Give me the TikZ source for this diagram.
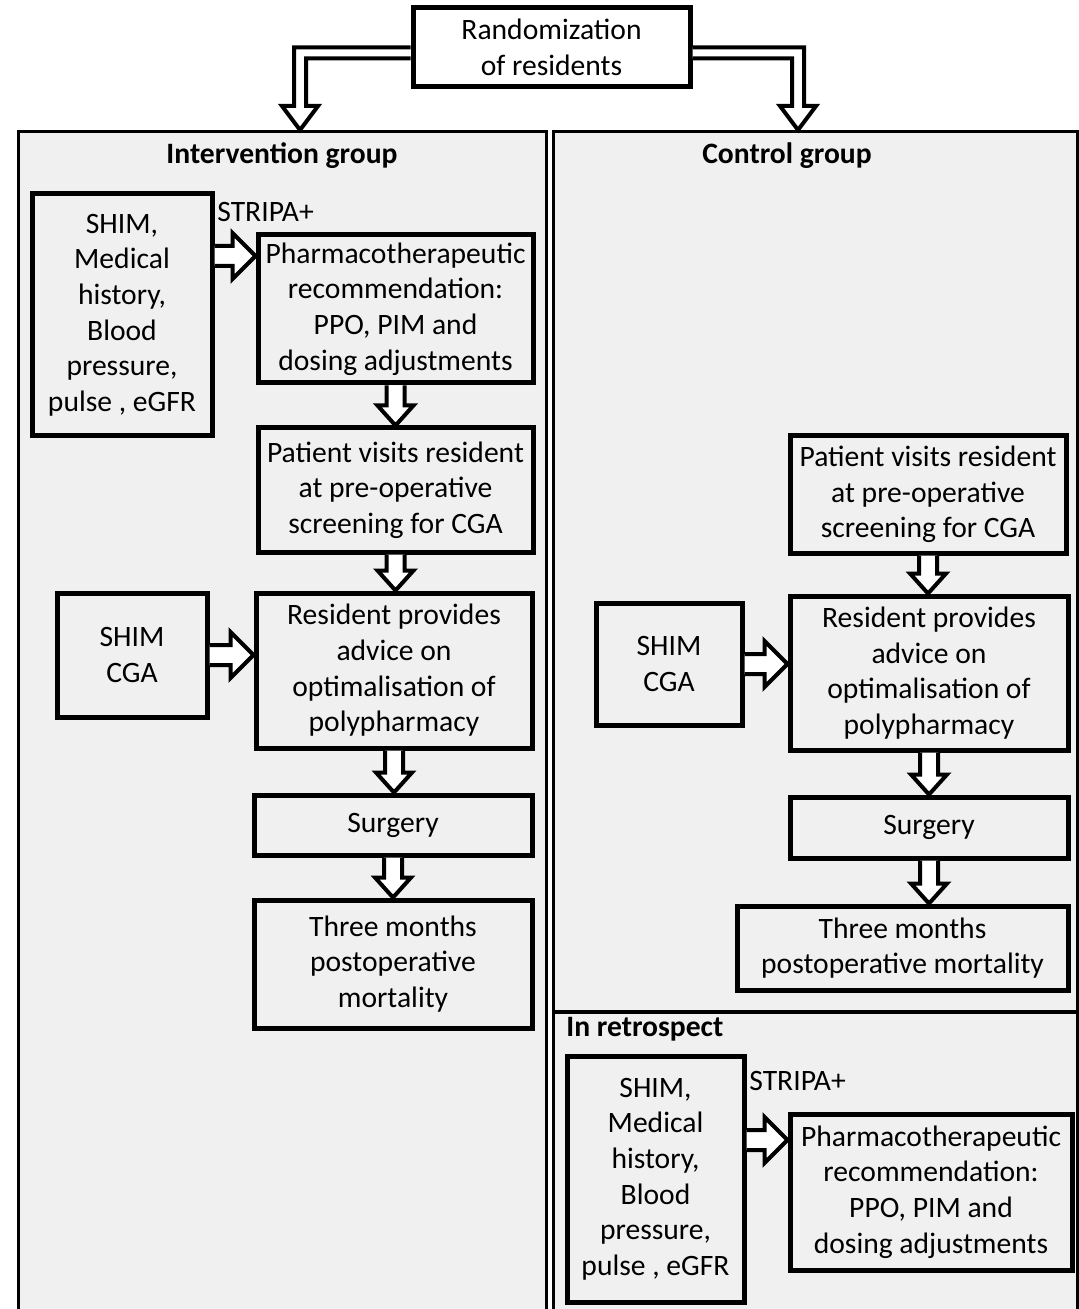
\documentclass[tikz,border=0pt]{standalone}
\usepackage{fontspec}
\setmainfont{Carlito}
\usetikzlibrary{fit,calc}
\definecolor{panelgray}{RGB}{240,240,240}
\newcommand\boxfont{\fontsize{14.8pt}{17.8pt}\selectfont}
\tikzset{
  box/.style={draw, line width=2.5pt, inner sep=0pt, align=center, font=\boxfont},
  rect/.style n args={4}{minimum width={(#3-#1)*0.5pt}, minimum height={(#4-#2)*0.5pt},
     at={({(#1+#3)/2},{(#2+#4)/2})}},
  panel/.style={draw, line width=1.5pt, fill=panelgray, inner sep=0pt},
  heading/.style={font=\boxfont\bfseries, inner sep=0pt},
  plain/.style={font=\boxfont, inner sep=0pt},
  blk/.style={draw, fill=white, line width=2pt, line join=miter},
  downarrow/.style={to path={let \p1=(\tikztostart), \p2=(\tikztotarget) in
     (\x1-4.5pt,\y1) -- (\x1-4.5pt,\y2+10pt) -- (\x1-9pt,\y2+10pt) -- (\x1,\y2)
     -- (\x1+9pt,\y2+10pt) -- (\x1+4.5pt,\y2+10pt) -- (\x1+4.5pt,\y1)}},
  rightarrow/.style={to path={let \p1=(\tikztostart), \p2=(\tikztotarget) in
     (\x1,\y1+5pt) -- (\x2-11.5pt,\y1+5pt) -- (\x2-11.5pt,\y1+11.5pt) -- (\x2,\y1)
     -- (\x2-11.5pt,\y1-11.5pt) -- (\x2-11.5pt,\y1-5pt) -- (\x1,\y1-5pt)}},
}
\begin{document}
\begin{tikzpicture}[x=0.5pt, y=-0.5pt]
\useasboundingbox (0,0) rectangle (1079,1309);
\clip (0,0) rectangle (1079,1309);

% panels
\node[panel, fit={(18,132) (546,1340)}] (lpanel) {};
\node[panel, fit={(553,132) (1077,1340)}] (rpanel) {};
\coordinate (div) at (0,1012);
\draw[line width=2pt] (rpanel.west |- div) -- (rpanel.east |- div);

% headings
\node[heading] (hint) at (282,156) {Intervention group};
\node[heading] (hctl) at (787,156) {Control group};
\node[heading, anchor=west] (hret) at (566,1029) {In retrospect};

% top box
\node[box, fill=white, rect={413}{8}{690}{87}] (top) {Randomization\\of residents};

% left column
\node[box, rect={32}{194}{212}{436}] (shimA) {SHIM,\\Medical\\history,\\Blood\\pressure,\\pulse , eGFR};
\node[plain, anchor=west] (stripaA) at (217,212) {STRIPA+};
\node[box, rect={258}{235}{533}{383}] (pharmaA) {Pharmacotherapeutic\\recommendation:\\PPO, PIM and\\dosing adjustments};
\node[box, rect={258}{428}{533}{552}] (patientA) {Patient visits resident\\at pre-operative\\screening for CGA};
\node[box, rect={57}{593}{207}{717}] (cgaA) {SHIM\\CGA};
\node[box, rect={256}{593}{532}{748}] (residentA) {Resident provides\\advice on\\optimalisation of\\polypharmacy};
\node[box, rect={254}{795}{532}{855}] (surgeryA) {Surgery};
\node[box, rect={254}{900}{532}{1028}] (threeA) {Three months\\postoperative\\mortality};

% right column
\node[box, rect={790}{436}{1066}{553}] (patientB) {Patient visits resident\\at pre-operative\\screening for CGA};
\node[box, rect={596}{603}{742}{725}] (cgaB) {SHIM\\CGA};
\node[box, rect={790}{596}{1068}{750}] (residentB) {Resident provides\\advice on\\optimalisation of\\polypharmacy};
\node[box, rect={790}{797}{1068}{858}] (surgeryB) {Surgery};
\node[box, rect={737}{906}{1068}{990}] (threeB) {Three months\\postoperative mortality};

% in retrospect
\node[box, rect={567}{1056}{744}{1302}] (shimC) {SHIM,\\Medical\\history,\\Blood\\pressure,\\pulse , eGFR};
\node[plain, anchor=west] (stripaC) at (749,1081) {STRIPA+};
\node[box, rect={790}{1114}{1072}{1270}] (pharmaC) {Pharmacotherapeutic\\recommendation:\\PPO, PIM and\\dosing adjustments};

% top arrows
\coordinate (ltip) at (300,130);
\coordinate (rtip) at (798,130);
\draw[blk] let \p1=(top.west), \p2=(ltip) in
  (\x1,\y1) -- (\x2-3pt,\y1) -- (\x2-3pt,\y2+12pt) -- (\x2-9pt,\y2+12pt) -- (\x2,\y2)
  -- (\x2+9pt,\y2+12pt) -- (\x2+3pt,\y2+12pt) -- (\x2+3pt,\y1-5.5pt) -- (\x1,\y1-5.5pt);
\draw[blk] let \p1=(top.east), \p2=(rtip) in
  (\x1,\y1) -- (\x2+3pt,\y1) -- (\x2+3pt,\y2+12pt) -- (\x2+9pt,\y2+12pt) -- (\x2,\y2)
  -- (\x2-9pt,\y2+12pt) -- (\x2-3pt,\y2+12pt) -- (\x2-3pt,\y1-5.5pt) -- (\x1,\y1-5.5pt);

% vertical arrows
\draw[blk] (pharmaA.south) to[downarrow] (patientA.north);
\draw[blk] (patientA.south) to[downarrow] (residentA.north);
\draw[blk] (residentA.south) to[downarrow] (surgeryA.north);
\draw[blk] (surgeryA.south) to[downarrow] (threeA.north);
\draw[blk] (patientB.south) to[downarrow] (residentB.north);
\draw[blk] (residentB.south) to[downarrow] (surgeryB.north);
\draw[blk] (surgeryB.south) to[downarrow] (threeB.north);

% horizontal arrows
\coordinate (hA1) at (0,256);
\coordinate (hA2) at (0,655);
\coordinate (hB) at (0,664);
\coordinate (hC) at (0,1140);
\draw[blk] (shimA.east |- hA1) to[rightarrow] (pharmaA.west |- hA1);
\draw[blk] (cgaA.east |- hA2) to[rightarrow] (residentA.west |- hA2);
\draw[blk] (cgaB.east |- hB) to[rightarrow] (residentB.west |- hB);
\draw[blk] (shimC.east |- hC) to[rightarrow] (pharmaC.west |- hC);
\end{tikzpicture}
\end{document}
